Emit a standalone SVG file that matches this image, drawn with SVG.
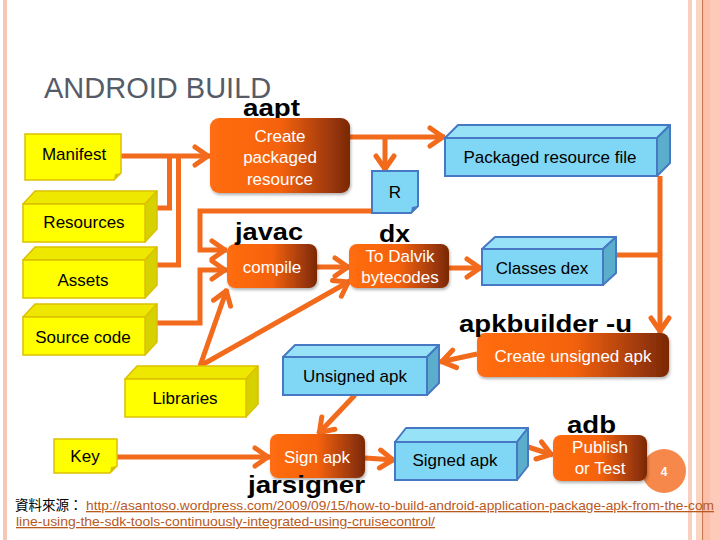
<svg xmlns="http://www.w3.org/2000/svg" width="720" height="540" viewBox="0 0 720 540">
<defs>
<style>
.lbl{font-family:"Liberation Sans",Arial,sans-serif;font-weight:bold;font-size:24px;fill:#000}
.txt{font-family:"Liberation Sans",Arial,sans-serif;font-size:17px;fill:#000;text-anchor:middle}
.wt{font-family:"Liberation Sans",Arial,sans-serif;font-size:17px;fill:#fff;text-anchor:middle}
.yf{fill:#ffff00;stroke:#dcc000;stroke-width:1.5}
.yt{fill:#eee800;stroke:#dcc000;stroke-width:1.5;stroke-linejoin:round}
.ys{fill:#d6d200;stroke:#dcc000;stroke-width:1.5;stroke-linejoin:round}
.bf{fill:#80d6f5;stroke:#4678c4;stroke-width:2}
.bt{fill:#98e2f8;stroke:#4678c4;stroke-width:2;stroke-linejoin:round}
.bs{fill:#5aaecb;stroke:#4678c4;stroke-width:2;stroke-linejoin:round}
.ob{fill:url(#og);filter:url(#sh)}
.con{fill:none;stroke:#f26a1b;stroke-width:5}
.arr{marker-end:url(#ah)}
.url{font-family:"Liberation Sans",Arial,sans-serif;font-size:13px;fill:#b85a1e;text-decoration:underline}
</style>
<linearGradient id="og" x1="0" y1="0" x2="1" y2="0">
<stop offset="0" stop-color="#ff6d12"/>
<stop offset="0.5" stop-color="#f5620c"/>
<stop offset="1" stop-color="#7a2806"/>
</linearGradient>
<filter id="sh" x="-10%" y="-10%" width="125%" height="130%">
<feDropShadow dx="1" dy="2" stdDeviation="1.5" flood-color="#000" flood-opacity="0.3"/>
</filter>
<marker id="ah" markerUnits="userSpaceOnUse" markerWidth="24" markerHeight="26" viewBox="0 0 24 26" refX="19" refY="12" orient="auto">
<path d="M4,3 L17,12 L4,21" fill="none" stroke="#f26a1b" stroke-width="5" stroke-linejoin="round" stroke-linecap="round"/>
</marker>
</defs>

<!-- borders -->
<rect x="3" y="0" width="4" height="540" fill="#f8c6b6"/>
<rect x="688" y="0" width="4" height="540" fill="#f9d0c0"/>
<rect x="696" y="0" width="6" height="540" fill="#fbd4c4"/>
<rect x="702" y="0" width="1.5" height="540" fill="#c97a52"/>
<rect x="703.5" y="0" width="6.5" height="540" fill="#fcc0a8"/>
<rect x="710" y="0" width="10" height="540" fill="#fdc9b9"/>

<text x="44" y="98" font-family="'Liberation Sans',Arial,sans-serif" font-size="29" fill="#555b67">ANDROID BUILD</text>

<!-- labels under boxes -->
<text class="lbl" x="243" y="116" textLength="57" lengthAdjust="spacingAndGlyphs">aapt</text>

<!-- connectors -->
<g id="connectors">
<path class="con arr" d="M121,156 L210,156"/>
<path class="con" d="M157,208 L169.5,208 L169.5,156"/>
<path class="con" d="M157,265 L178.5,265 L178.5,156"/>
<path class="con arr" d="M350,137 L445,137"/>
<path class="con arr" d="M385,137 L385,171"/>
<path class="con arr" d="M372,211 L200,211 L200,250 L227,250"/>
<path class="con arr" d="M157,323 L200,323 L200,270 L227,270"/>
<path class="con arr" d="M317,267 L350,267"/>
<path class="con arr" d="M200,366 L227,289"/>
<path class="con arr" d="M200,366 L350,281"/>
<path class="con arr" d="M449,268 L482,268"/>
<path class="con arr" d="M660,176 L660,333"/>
<path class="con" d="M616,255 L662,255"/>
<path class="con arr" d="M477,354 L440,362"/>
<path class="con arr" d="M355,395 L318,434"/>
<path class="con arr" d="M117,457 L270,457"/>
<path class="con arr" d="M365,458 L395,460"/>
<path class="con arr" d="M528,447 L553,455"/>
</g>

<!-- yellow nodes -->
<g id="manifest">
<path d="M25,134 H121 V173 L114,180 H25 Z" class="yf"/>
<path d="M121,173 L114,180 L115,174 Z" fill="#d6c000"/>
<text class="txt" x="74" y="160">Manifest</text>
</g>
<g id="resources">
<polygon class="yt" points="23,204 35,191 157,191 145,204"/>
<polygon class="ys" points="145,204 157,191 157,229 145,242"/>
<rect class="yf" x="23" y="204" width="122" height="38"/>
<text class="txt" x="84" y="228">Resources</text>
</g>
<g id="assets">
<polygon class="yt" points="23,260 35,247 157,247 145,260"/>
<polygon class="ys" points="145,260 157,247 157,285 145,298"/>
<rect class="yf" x="23" y="260" width="122" height="38"/>
<text class="txt" x="83" y="286">Assets</text>
</g>
<g id="source-code">
<polygon class="yt" points="23,317 35,304 157,304 145,317"/>
<polygon class="ys" points="145,317 157,304 157,342 145,355"/>
<rect class="yf" x="23" y="317" width="122" height="38"/>
<text class="txt" x="83" y="343">Source code</text>
</g>
<g id="libraries">
<polygon class="yt" points="125,379 137,366 258,366 246,379"/>
<polygon class="ys" points="246,379 258,366 258,404 246,417"/>
<rect class="yf" x="125" y="379" width="121" height="38"/>
<text class="txt" x="185" y="404">Libraries</text>
</g>
<g id="key">
<path d="M54,439 H117 V466 L110,473 H54 Z" class="yf"/>
<path d="M117,466 L110,473 L111,467 Z" fill="#d6c000"/>
<text class="txt" x="85" y="462">Key</text>
</g>

<!-- blue nodes -->
<g id="r">
<path d="M372,171 H418 V206 L411,213 H372 Z" class="bf"/>
<path d="M418,206 L411,213 L412,207 Z" fill="#4678c4"/>
<text class="txt" x="395" y="198">R</text>
</g>
<g id="packaged-resource-file">
<polygon class="bt" points="445,138 458,125 670,125 657,138"/>
<polygon class="bs" points="657,138 670,125 670,163 657,176"/>
<rect class="bf" x="445" y="138" width="212" height="38"/>
<text class="txt" x="550" y="163">Packaged resource file</text>
</g>
<g id="classes-dex">
<polygon class="bt" points="482,249 495,237 616,237 603,249"/>
<polygon class="bs" points="603,249 616,237 616,273 603,285"/>
<rect class="bf" x="482" y="249" width="121" height="36"/>
<text class="txt" x="542" y="274">Classes dex</text>
</g>
<g id="unsigned-apk">
<polygon class="bt" points="283,357 295,345 439,345 427,357"/>
<polygon class="bs" points="427,357 439,345 439,383 427,395"/>
<rect class="bf" x="283" y="357" width="144" height="38"/>
<text class="txt" x="355" y="382">Unsigned apk</text>
</g>
<g id="signed-apk">
<polygon class="bt" points="395,442 406,428 528,428 517,442"/>
<polygon class="bs" points="517,442 528,428 528,466 517,480"/>
<rect class="bf" x="395" y="442" width="122" height="38"/>
<text class="txt" x="455" y="466">Signed apk</text>
</g>

<!-- page number -->
<g id="page-number">
<circle cx="664" cy="471" r="22" fill="#f5884a"/>
<text x="664" y="476" font-family="'Liberation Sans',Arial,sans-serif" font-size="12" font-weight="bold" fill="#fff" text-anchor="middle">4</text>
</g>

<!-- orange process nodes -->
<g id="aapt">
<rect class="ob" x="210" y="118" width="140" height="75" rx="9"/>
<text class="wt" x="280" y="142">Create</text>
<text class="wt" x="280" y="163">packaged</text>
<text class="wt" x="280" y="185">resource</text>
</g>
<g id="javac">
<rect class="ob" x="227" y="244" width="90" height="44" rx="8"/>
<text class="wt" x="272" y="273">compile</text>
<text class="lbl" x="235" y="240" textLength="68" lengthAdjust="spacingAndGlyphs">javac</text>
</g>
<g id="dx">
<rect class="ob" x="349" y="244" width="100" height="44" rx="8"/>
<text class="wt" x="400" y="262">To Dalvik</text>
<text class="wt" x="400" y="283">bytecodes</text>
<text class="lbl" x="379" y="242" textLength="31" lengthAdjust="spacingAndGlyphs">dx</text>
</g>
<g id="apkbuilder">
<rect class="ob" x="477" y="333" width="192" height="44" rx="8"/>
<text class="wt" x="573" y="362">Create unsigned apk</text>
<text class="lbl" x="459" y="332" textLength="173" lengthAdjust="spacingAndGlyphs">apkbuilder -u</text>
</g>
<g id="jarsigner">
<rect class="ob" x="270" y="434" width="95" height="44" rx="8"/>
<text class="wt" x="317" y="463">Sign apk</text>
<text class="lbl" x="248" y="493" textLength="117" lengthAdjust="spacingAndGlyphs">jarsigner</text>
</g>
<g id="adb">
<rect class="ob" x="553" y="435" width="94" height="46" rx="8"/>
<text class="wt" x="600" y="453">Publish</text>
<text class="wt" x="600" y="474">or Test</text>
<text class="lbl" x="567" y="433" textLength="49" lengthAdjust="spacingAndGlyphs">adb</text>
</g>

<!-- footer -->
<text x="15" y="510" font-family="'Noto Sans CJK TC','Noto Sans CJK SC',sans-serif" font-size="13.5" fill="#000">資料來源：</text>
<text class="url" x="86" y="510" textLength="628" lengthAdjust="spacingAndGlyphs">http://asantoso.wordpress.com/2009/09/15/how-to-build-android-application-package-apk-from-the-com</text>
<text class="url" x="16" y="526" textLength="419" lengthAdjust="spacingAndGlyphs">line-using-the-sdk-tools-continuously-integrated-using-cruisecontrol/</text>
</svg>
